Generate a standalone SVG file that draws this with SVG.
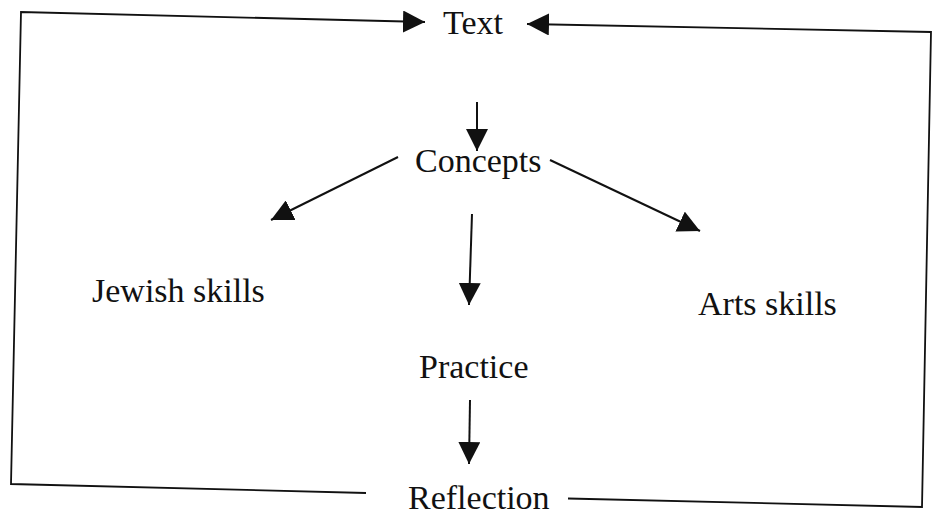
<svg xmlns="http://www.w3.org/2000/svg" width="938" height="519" viewBox="0 0 938 519">
  <style>
    .lbl { font-family: "Liberation Serif", "Times New Roman", serif; font-size: 34px; fill: #111; }
    .ln { stroke: #111; stroke-width: 2; fill: none; }
    .fr { stroke: #111; stroke-width: 1.8; fill: none; }
  </style>
  <defs>
    <marker id="ah" viewBox="0 0 22 22" refX="22" refY="11" markerWidth="22" markerHeight="22" markerUnits="userSpaceOnUse" orient="auto">
      <path d="M0,0 L22,11 L0,22 Z" fill="#111"/>
    </marker>
  </defs>
  <rect width="938" height="519" fill="#fff"/>
  <g id="connectors">
    <path class="fr" d="M366,493 L11,484 L21,12 L425,22"/>
    <path class="ln" d="M403,21.5 L425,22" marker-end="url(#ah)"/>
    <path class="fr" d="M568,498.5 L922,507 L931,32 L527,24"/>
    <path class="ln" d="M549,24.5 L527,24" marker-end="url(#ah)"/>
    <path class="ln" d="M477,102 L477,151" marker-end="url(#ah)"/>
    <path class="ln" d="M398,157 L271,220" marker-end="url(#ah)"/>
    <path class="ln" d="M550,160 L700,231" marker-end="url(#ah)"/>
    <path class="ln" d="M472,214 L469,305" marker-end="url(#ah)"/>
    <path class="ln" d="M470,400 L469,464" marker-end="url(#ah)"/>
  </g>
  <g id="text"><text class="lbl" x="443" y="34">Text</text></g>
  <g id="concepts"><text class="lbl" x="415" y="172">Concepts</text></g>
  <g id="jewish"><text class="lbl" x="92" y="302">Jewish skills</text></g>
  <g id="arts"><text class="lbl" x="698" y="315">Arts skills</text></g>
  <g id="practice"><text class="lbl" x="419" y="378">Practice</text></g>
  <g id="reflection"><text class="lbl" x="408" y="509">Reflection</text></g>
</svg>
